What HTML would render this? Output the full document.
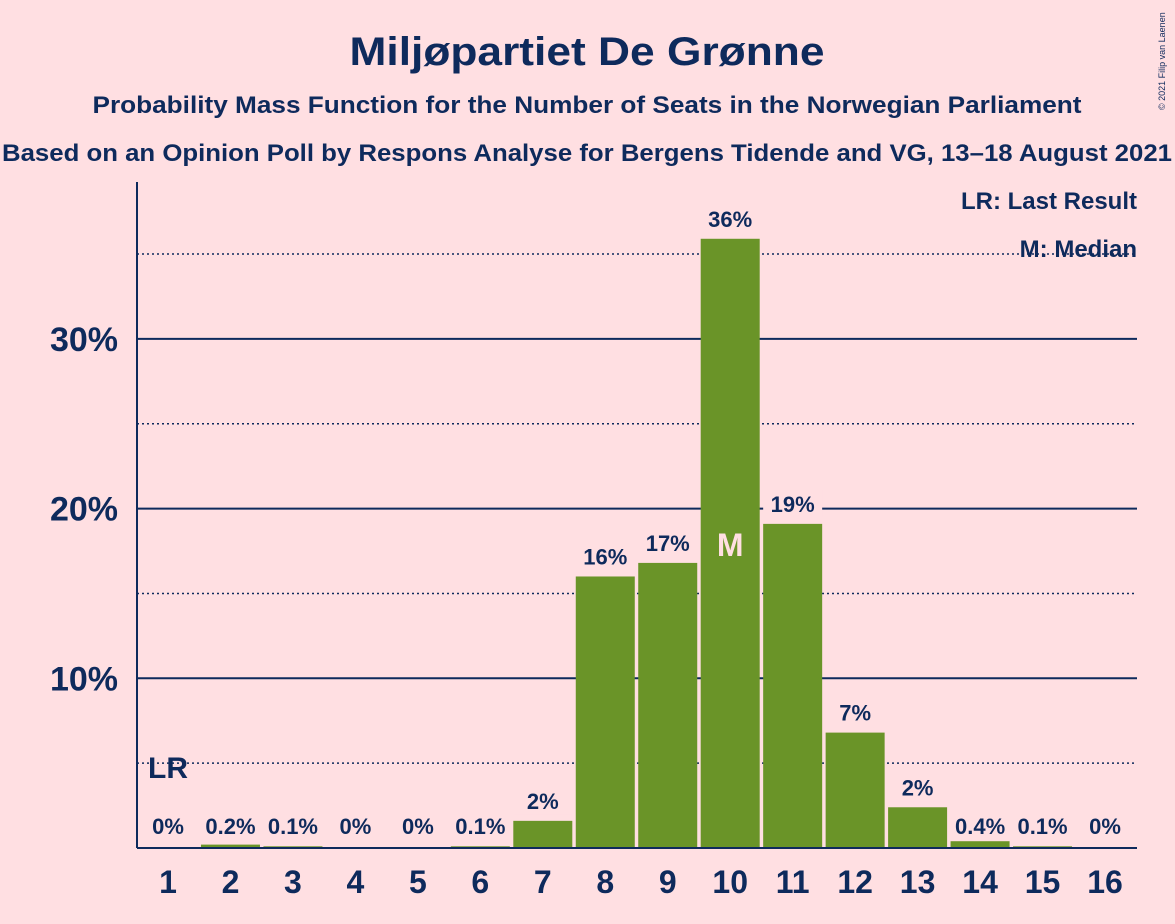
<!DOCTYPE html>
<html><head><meta charset="utf-8">
<style>
html,body{margin:0;padding:0;background:#FFDFE2;}
svg{display:block;font-family:"Liberation Sans",sans-serif;font-weight:bold;}
</style></head>
<body>
<svg id="chart" width="1175" height="924" viewBox="0 0 1175 924">
<rect x="0" y="0" width="1175" height="924" fill="#FFDFE2"/>
<text x="587" y="65" text-anchor="middle" font-size="40" textLength="475" lengthAdjust="spacingAndGlyphs" fill="#0E2A5C">Miljøpartiet De Grønne</text>
<text x="587" y="113" text-anchor="middle" font-size="24" textLength="989" lengthAdjust="spacingAndGlyphs" fill="#0E2A5C">Probability Mass Function for the Number of Seats in the Norwegian Parliament</text>
<text x="587" y="161" text-anchor="middle" font-size="24" textLength="1170" lengthAdjust="spacingAndGlyphs" fill="#0E2A5C">Based on an Opinion Poll by Respons Analyse for Bergens Tidende and VG, 13–18 August 2021</text>
<text x="1165" y="110" font-size="9" font-weight="normal" fill="#0E2A5C" transform="rotate(-90 1165 110)">© 2021 Filip van Laenen</text>
<g id="grid"></g>
<g id="bars"></g>
<g id="labels"></g>
<line x1="137" y1="182" x2="137" y2="848" stroke="#0E2A5C" stroke-width="2"/>
<line x1="137" y1="848" x2="1137" y2="848" stroke="#0E2A5C" stroke-width="2"/>
<text x="1137" y="209" text-anchor="end" font-size="24" fill="#0E2A5C">LR: Last Result</text>
<text x="1137" y="257" text-anchor="end" font-size="24" fill="#0E2A5C">M: Median</text>
</svg>
<script>
const seats = [1,2,3,4,5,6,7,8,9,10,11,12,13,14,15,16];
const probs = [0,0.2,0.1,0,0,0.1,1.6,16.0,16.8,35.9,19.1,6.8,2.4,0.4,0.1,0];
const valueLabels = ["0%","0.2%","0.1%","0%","0%","0.1%","2%","16%","17%","36%","19%","7%","2%","0.4%","0.1%","0%"];
const yTicks = [10,20,30];
const yDotted = [5,15,25,35];
const lastResultSeat = 1;
const medianSeat = 10;

const NS="http://www.w3.org/2000/svg";
const x0=168, dx=(1105-168)/15, bw=59;
function xs(s){return x0+(s-1)*dx;}
function ys(v){return 848-v*16.97;}
function mk(tag,attrs,parent,text){const e=document.createElementNS(NS,tag);for(const k in attrs)e.setAttribute(k,attrs[k]);if(text!==undefined)e.textContent=text;document.getElementById(parent).appendChild(e);return e;}
yDotted.forEach(v=>{
  const l=mk('line',{x1:137,x2:1137,y1:ys(v),y2:ys(v),stroke:'#0E2A5C','stroke-width':1.5,'stroke-dasharray':'2,3'},'grid');
  
  
});
yTicks.forEach(v=>{
  const l=mk('line',{x1:137,x2:1137,y1:ys(v),y2:ys(v),stroke:'#0E2A5C','stroke-width':2},'grid');
  
  
  const t=mk('text',{x:118,y:ys(v)+12,'text-anchor':'end','font-size':34,fill:'#0E2A5C'},'labels',v+'%');
  
  
});
seats.forEach((s,i)=>{
  const v=probs[i];
  if(v>0){
    const b=mk('rect',{x:xs(s)-bw/2,y:ys(v),width:bw,height:848-ys(v),fill:'#6A9428'},'bars');
    
    
  }
  const ly = v<1 ? 834 : ys(v)-12;
  if(v>=1){
    const bg=mk('rect',{x:xs(s)-bw/2,y:ly-22,width:bw,height:28,fill:'#FFDFE2'},'labels');
    
    
  }
  const t=mk('text',{x:xs(s),y:ly,'text-anchor':'middle','font-size':22,fill:'#0E2A5C'},'labels',valueLabels[i]);
  
  
  const xt=mk('text',{x:xs(s),y:893,'text-anchor':'middle','font-size':32,fill:'#0E2A5C'},'labels',String(s));
  
  
});
const lr=mk('text',{x:xs(lastResultSeat),y:778,'text-anchor':'middle','font-size':30,fill:'#0E2A5C'},'labels','LR');


const m=mk('text',{x:xs(medianSeat),y:556,'text-anchor':'middle','font-size':32,fill:'#FFDFE2'},'labels','M');


</script>
</body></html>
